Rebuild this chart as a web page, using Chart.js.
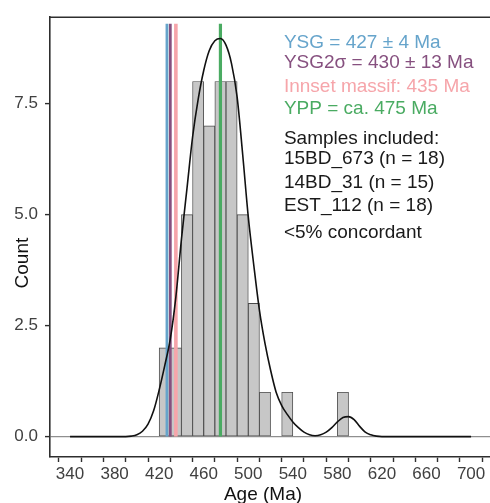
<!DOCTYPE html>
<html>
<head>
<meta charset="utf-8">
<title>Detrital zircon ages</title>
<script src="https://cdn.jsdelivr.net/npm/chart.js@4.4.1/dist/chart.umd.min.js"></script>
<style>
  html, body { margin: 0; padding: 0; background: #fff; overflow: hidden; }
  canvas { display: block; }
</style>
</head>
<body>
<canvas id="age-chart" width="490" height="503"></canvas>
<script>
'use strict';

// histogram: lower bin edge (Ma) and count, bins are 10 Ma wide
var binStart = [420, 430, 440, 450, 460, 470, 480, 490, 500, 510, 520, 530, 540, 550, 560, 570, 580];
var binCount = [2, 2, 5, 8, 7, 8, 8, 5, 3, 1, 0, 1, 0, 0, 0, 0, 1];
var binWidth = 10;

// kernel density, scaled to counts
var densityAge = [340, 390, 395, 400, 405, 410, 415, 420, 425, 430, 435, 440, 445, 450, 455, 460,
  465, 470, 475, 480, 485, 490, 495, 500, 505, 510, 515, 520, 525, 530, 535, 540, 545, 550, 555,
  560, 565, 570, 575, 580, 585, 590, 595, 600, 605, 610, 615, 620, 700];
var densityCount = [0, 0, 0.01, 0.04, 0.12, 0.28, 0.58, 1.05, 1.6, 2.2, 3.15, 4.45, 5.6, 6.75, 7.6, 8.25,
  8.7, 8.92, 8.97, 8.82, 8.4, 7.65, 6.35, 4.95, 3.85, 2.85, 2.1, 1.5, 1.0, 0.7, 0.5, 0.33, 0.2, 0.1, 0.04,
  0.02, 0.04, 0.1, 0.2, 0.33, 0.43, 0.45, 0.38, 0.23, 0.1, 0.04, 0.01, 0, 0];

// reference ages drawn as vertical lines
var refNames = ['YSG', 'YSG2σ', 'Innset massif', 'YPP'];
var refAges = [427, 430, 435, 475];
var refColors = ['#66a4cb', '#86507f', '#f6a5aa', '#4aab62'];
var refWidths = [2.8, 2.8, 3.6, 3.2];
var refTop = 9.3;

// text block on the right
var noteLines = ['YSG = 427 ± 4 Ma', 'YSG2σ = 430 ± 13 Ma', 'Innset massif: 435 Ma', 'YPP = ca. 475 Ma',
  'Samples included:', '15BD_673 (n = 18)', '14BD_31 (n = 15)', 'EST_112 (n = 18)', '<5% concordant'];
var noteColors = ['#66a4cb', '#86507f', '#f6a5aa', '#4aab62', '#1a1a1a', '#1a1a1a', '#1a1a1a', '#1a1a1a', '#1a1a1a'];
var noteAge = 532;
var noteCount = [8.88, 8.43, 7.89, 7.39, 6.72, 6.25, 5.71, 5.21, 4.6];

var xTicks = [340, 360, 380, 400, 420, 440, 460, 480, 500, 520, 540, 560, 580, 600, 620, 640, 660, 680, 700];
var xLabelEvery = 40;
var yTicks = [0, 2.5, 5, 7.5];

var xTitle = 'Age (Ma)';
var yTitle = 'Count';

var FONT = '"Liberation Sans", Arial, Helvetica, sans-serif';
var AXIS_COLOR = '#2e2e2e';

function histData() {
  var pts = [];
  for (var i = 0; i < binStart.length; i++) {
    pts.push({x: binStart[i] + binWidth / 2, y: binCount[i]});
  }
  return pts;
}

function densityData() {
  var pts = [];
  for (var i = 0; i < densityAge.length; i++) {
    pts.push({x: densityAge[i], y: densityCount[i]});
  }
  return pts;
}

function refDatasets() {
  var sets = [];
  for (var i = 0; i < refAges.length; i++) {
    sets.push({
      type: 'line',
      label: refNames[i],
      data: [{x: refAges[i], y: 0}, {x: refAges[i], y: refTop}],
      borderColor: refColors[i],
      borderWidth: refWidths[i],
      pointRadius: 0,
      borderCapStyle: 'butt',
      order: 2
    });
  }
  return sets;
}

// top frame line, axis titles and the text block
var extras = {
  id: 'extras',
  afterDraw: function(chart) {
    var ctx = chart.ctx;
    var area = chart.chartArea;
    var x = chart.scales.x;
    var y = chart.scales.y;
    ctx.save();
    ctx.strokeStyle = AXIS_COLOR;
    ctx.lineWidth = 1.6;
    ctx.beginPath();
    ctx.moveTo(area.left - 0.8, area.top);
    ctx.lineTo(area.right, area.top);
    ctx.stroke();

    ctx.font = '19px ' + FONT;
    ctx.fillStyle = '#111';
    ctx.textAlign = 'center';
    ctx.textBaseline = 'alphabetic';
    ctx.fillText(xTitle, (area.left + area.right) / 2 - 7, chart.height - 3);
    ctx.save();
    ctx.translate(area.left - 22, (area.top + area.bottom) / 2 + 26);
    ctx.rotate(-Math.PI / 2);
    ctx.fillText(yTitle, 0, 0);
    ctx.restore();

    ctx.textAlign = 'left';
    ctx.textBaseline = 'middle';
    for (var i = 0; i < noteLines.length; i++) {
      ctx.fillStyle = noteColors[i];
      ctx.fillText(noteLines[i], x.getPixelForValue(noteAge), y.getPixelForValue(noteCount[i]));
    }
    ctx.restore();
  }
};

var ctx = document.getElementById('age-chart');
var datasets = [{
  type: 'bar',
  label: 'Count',
  data: histData(),
  backgroundColor: '#c7c7c7',
  borderColor: '#4a4a4a',
  borderWidth: 0.9,
  borderSkipped: false,
  barPercentage: 1,
  categoryPercentage: 1,
  order: 3
}].concat(refDatasets()).concat([{
  type: 'line',
  label: 'Density',
  data: densityData(),
  borderColor: '#111111',
  borderWidth: 1.6,
  pointRadius: 0,
  cubicInterpolationMode: 'monotone',
  order: 1
}]);

new Chart(ctx, {
  type: 'bar',
  data: {datasets: datasets},
  options: {
    responsive: false,
    animation: false,
    devicePixelRatio: 1,
    layout: {padding: {top: 13, right: 0, left: 0, bottom: 0}},
    plugins: {legend: {display: false}, tooltip: {enabled: false}},
    scales: {
      x: {
        type: 'linear',
        min: 322,
        max: 717,
        offset: false,
        afterFit: function(scale) { scale.height = 46; },
        afterBuildTicks: function(scale) {
          scale.ticks = xTicks.map(function(v) { return {value: v}; });
        },
        ticks: {
          autoSkip: false,
          maxRotation: 0,
          padding: 2,
          color: '#404040',
          font: {family: FONT, size: 17},
          callback: function(v) { return (v - xTicks[0]) % xLabelEvery === 0 ? String(v) : ''; }
        },
        grid: {drawOnChartArea: false, color: AXIS_COLOR, tickLength: 5, tickWidth: 1.4},
        border: {color: AXIS_COLOR, width: 1.6}
      },
      y: {
        min: -0.46,
        max: 9.45,
        afterFit: function(scale) { scale.width = 50; },
        afterBuildTicks: function(scale) {
          scale.ticks = yTicks.map(function(v) { return {value: v}; });
        },
        ticks: {
          padding: 7,
          color: '#404040',
          font: {family: FONT, size: 17},
          callback: function(v) { return v.toFixed(1); }
        },
        grid: {
          color: function(c) { return c.tick && c.tick.value === 0 ? '#8f8f8f' : 'rgba(0,0,0,0)'; },
          lineWidth: 1.2,
          tickColor: AXIS_COLOR,
          tickWidth: 1.4,
          tickLength: 5
        },
        border: {color: AXIS_COLOR, width: 1.6}
      }
    }
  },
  plugins: [extras]
});
</script>
</body>
</html>
